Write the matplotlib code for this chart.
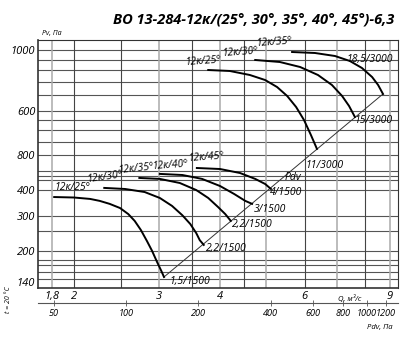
import matplotlib
matplotlib.use("Agg")
import matplotlib.pyplot as plt
from matplotlib.ticker import FixedLocator, FixedFormatter, NullLocator

plt.rcParams['font.family'] = ['Open Sans', 'DejaVu Sans']

# --- donnees (Q en m3/s, P en Pa) ---
# 1500 tr/min
q25_1500 = [1.82, 2.00, 2.16, 2.26, 2.37, 2.49, 2.59, 2.67, 2.75, 2.83, 2.90, 2.97, 3.03, 3.07]
p25_1500 = [371, 369, 363, 355, 343, 327, 305, 282, 254, 224, 200, 176, 159, 148]
q30_1500 = [2.31, 2.55, 2.80, 3.01, 3.19, 3.35, 3.48, 3.58, 3.64, 3.71]
p30_1500 = [412, 407, 393, 367, 335, 301, 272, 245, 226, 214]
q35_1500 = [2.73, 3.01, 3.31, 3.58, 3.79, 3.97, 4.11, 4.22]
p35_1500 = [462, 457, 436, 402, 367, 331, 305, 282]
q40_1500 = [3.01, 3.35, 3.68, 4.01, 4.29, 4.52, 4.67]
p40_1500 = [484, 478, 457, 421, 384, 355, 343]
q45_1500 = [3.59, 4.01, 4.41, 4.74, 4.97, 5.11]
p45_1500 = [518, 512, 489, 457, 431, 407]
# 3000 tr/min
q25_3000 = [3.79, 4.20, 4.62, 4.97, 5.26, 5.52, 5.76, 5.98, 6.18, 6.36]
p25_3000 = [1598, 1580, 1509, 1424, 1314, 1185, 1044, 899, 757, 645]
q30_3000 = [4.74, 5.33, 5.87, 6.39, 6.83, 7.17, 7.41, 7.62]
p30_3000 = [1793, 1752, 1654, 1509, 1345, 1185, 1057, 931]
q35_3000 = [5.65, 6.30, 6.93, 7.44, 7.88, 8.27, 8.51, 8.71]
p35_3000 = [1965, 1943, 1877, 1772, 1635, 1474, 1345, 1213]

# ligne Pdv
q_pdv = [3.07, 8.71]
p_pdv = [148, 1213]

noms = ["12к/25°", "12к/30°", "12к/35°", "12к/40°", "12к/45°",
        "12к/25°", "12к/30°", "12к/35°"]
fin_labels = ["1,5/1500", "2,2/1500", "2,2/1500", "3/1500", "4/1500",
              "11/3000", "15/3000", "18,5/3000"]

# grille
grille_h = [2000, 1800, 1600, 1400, 1200, 1000, 900, 800, 700, 600, 500, 472,
            450, 400, 300, 250, 200, 180, 170, 157, 144]
grille_v_fonce = [2, 2.5, 3.5, 4.5, 6, 8]
grille_v_clair = [1.8, 3, 4, 5, 7, 9]

# axes
y_pos = [2000, 1000, 600, 400, 300, 200, 140]
y_lab = ["1000", "600", "800", "400", "300", "200", "140"]
q_ticks = [1.8, 2, 3, 4, 6, 9]
q_lab = ["1,8", "2", "3", "4", "6", "9"]
pdv_ticks = [50, 100, 200, 400, 600, 800, 1000, 1200]

W, H = 414, 347
fig = plt.figure(figsize=(W / 100, H / 100), dpi=100)
ax = fig.add_axes([38 / W, 1 - 288 / H, 359.7 / W, 248.5 / H])
ax.set_xscale('log')
ax.set_yscale('log')
ax.set_xlim(1.685, 9.342)
ax.set_ylim(130.4, 2269)

for p in grille_h:
    ax.axhline(p, color='#555555', lw=0.8, zorder=1)
for q in grille_v_fonce:
    ax.axvline(q, color='#444444', lw=0.8, zorder=1)
for q in grille_v_clair:
    ax.axvline(q, color='#aaaaaa', lw=1.1, zorder=1)

courbes = [(q25_1500, p25_1500), (q30_1500, p30_1500), (q35_1500, p35_1500),
           (q40_1500, p40_1500), (q45_1500, p45_1500),
           (q25_3000, p25_3000), (q30_3000, p30_3000), (q35_3000, p35_3000)]
for q, p in courbes:
    ax.plot(q, p, color='black', lw=1.4, zorder=3, solid_joinstyle='round')

ax.plot(q_pdv, p_pdv, color='#333333', lw=0.7, zorder=2)

# noms des courbes (decalages en pixels)
nom_dx = [0, -16, -21, -7, -8, -23, -33, -35]
nom_dy = [4, 3, 2, 2, 4, 2, 1, 3]
rot = [0, 8, 6, 4, 4, 4, 4, 4]
for (q, p), nom, dx, dy, r in zip(courbes, noms, nom_dx, nom_dy, rot):
    ax.annotate(nom, (q[0], p[0]), xytext=(dx, dy), textcoords='offset pixels',
                fontsize=7.5, style='italic', ha='left', va='bottom',
                rotation=r, rotation_mode='anchor', zorder=4)

# etiquettes des points de fin
fin_dx = [5, 2, 1, 2, -1, -11, 0, -37]
fin_dy = [-5, -4, -4, -6, -4, -17, -4, 34]
for (q, p), lab, dx, dy in zip(courbes, fin_labels, fin_dx, fin_dy):
    ax.annotate(lab, (q[-1], p[-1]), xytext=(dx, dy), textcoords='offset pixels',
                fontsize=7.5, style='italic', ha='left', va='center', zorder=4)
ax.text(5.45, 462, "Pdv", fontsize=7.5, style='italic', ha='left', va='center')

ax.yaxis.set_major_locator(FixedLocator(y_pos))
ax.yaxis.set_major_formatter(FixedFormatter(y_lab))
ax.yaxis.set_minor_locator(NullLocator())
ax.xaxis.set_major_locator(FixedLocator(q_ticks))
ax.xaxis.set_major_formatter(FixedFormatter(q_lab))
ax.xaxis.set_minor_locator(NullLocator())
ax.tick_params(axis='both', length=0, pad=2, labelsize=8)
for t in ax.get_xticklabels() + ax.get_yticklabels():
    t.set_style('italic')
for s in ax.spines.values():
    s.set_color('#333333')
    s.set_linewidth(0.8)
ax.spines['left'].set_linewidth(1.2)
ax.spines['bottom'].set_linewidth(1.2)

ax.text(7.45, 120, "Q, м³/с", fontsize=5.5, style='italic', ha='center', va='top')
ax.text(1.72, 2330, "Pv, Па", fontsize=5, style='italic', ha='left', va='bottom')

# echelle Pdv en bas
ax2 = fig.add_axes([38 / W, 1 - 303 / H, 359.7 / W, 0.001])
ax2.set_xscale('log')
ax2.set_xlim(43.1, 1347)
ax2.set_yticks([])
for k in ['top', 'left', 'right']:
    ax2.spines[k].set_visible(False)
ax2.spines['bottom'].set_color('#555555')
ax2.spines['bottom'].set_linewidth(0.8)
ax2.xaxis.set_major_locator(FixedLocator(pdv_ticks))
ax2.xaxis.set_major_formatter(FixedFormatter([str(v) for v in pdv_ticks]))
ax2.xaxis.set_minor_locator(NullLocator())
ax2.tick_params(axis='x', direction='inout', length=5, width=0.6,
                color='#555555', labelsize=6.6, pad=2)
for t in ax2.get_xticklabels():
    t.set_style('italic')
fig.text(393 / W, 1 - 328 / H, "Pdv, Па", fontsize=5.5, style='italic',
         ha='right', va='center')
fig.text(9 / W, 1 - 300 / H, "t = 20 °C", fontsize=5, style='italic',
         rotation=90, ha='center', va='center')

fig.text(254 / W, 1 - 20 / H, "ВО 13-284-12к/(25°, 30°, 35°, 40°, 45°)-6,3",
         fontsize=10.5, fontweight='bold', style='italic', ha='center', va='center')

fig.savefig("out.png", dpi=100)
